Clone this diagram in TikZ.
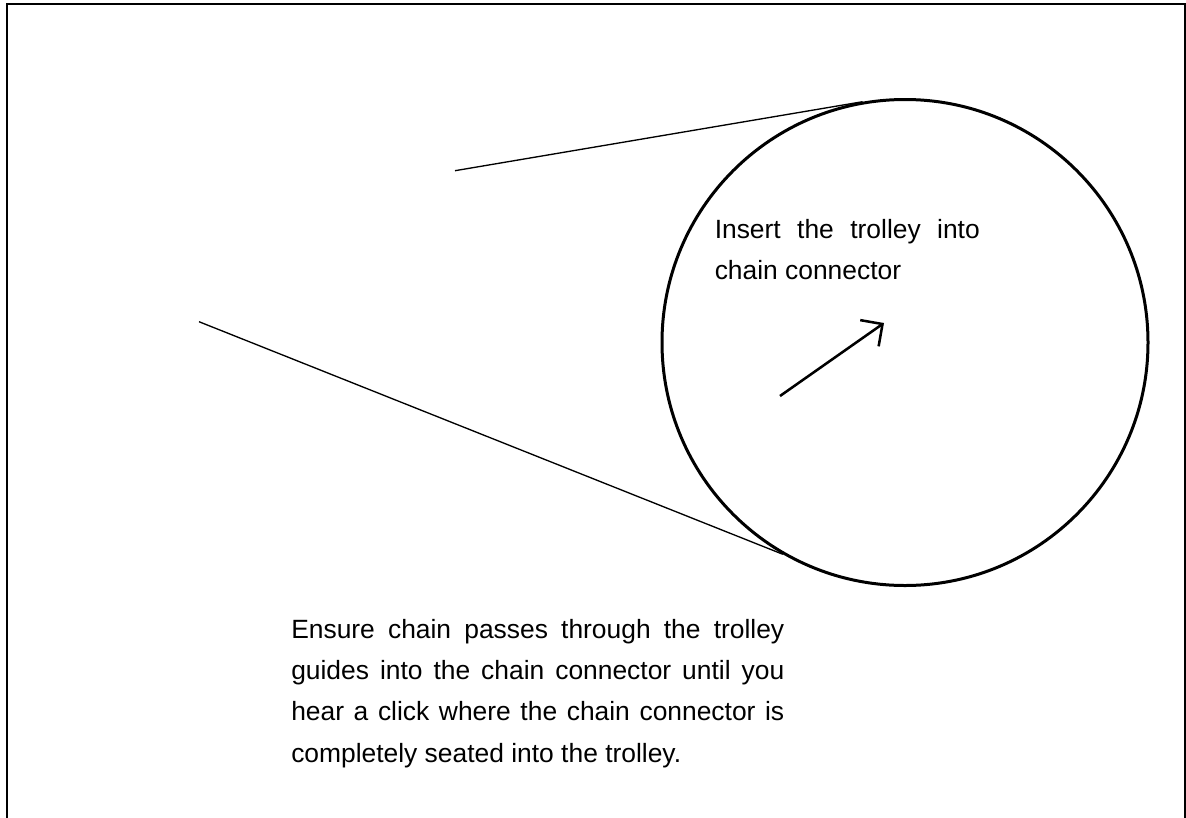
\documentclass[tikz,border=0pt]{standalone}
\usepackage{xcolor}
\usepackage{fontspec}
\setmainfont{Liberation Sans}
\usepackage{tikz}
\usetikzlibrary{arrows.meta, positioning, calc}
\definecolor{inkblack}{HTML}{000000}
\tikzset{
  arr/.style={-{Straight Barb[length=12pt, width=24pt, line width=1.9pt]}, line width=1.9pt, inkblack},
  leader/.style={line width=1pt, inkblack},
  lens/.style={circle, draw=inkblack, line width=2.25pt, inner sep=0pt, minimum size=364.5pt},
  note/.style={inner sep=0pt, anchor=base west, align=justify, text=inkblack, font=\fontsize{19.8}{30.9}\selectfont},
}

\begin{document}
\begin{tikzpicture}[x=0.75pt, y=-0.75pt]
  \useasboundingbox (0,0) rectangle (1186,818);

  % Page frame, open at the bottom
  \draw[line width=1.5pt, inkblack] (7,830) -- (7,4) -- (1185,4) -- (1185,830);

  % Zoom circle and its leader lines
  \node[lens] (zoom) at (905,342.5) {};
  \coordinate (topstart) at (455,170.7);
  \coordinate (botstart) at (199,321.7);
  \draw[leader] (topstart) -- (zoom.100);
  \draw[leader] (botstart) -- (zoom.240);

  % Insertion direction
  \coordinate (pushfrom) at (780,396);
  \coordinate (pushto) at (884,323);
  \draw[arr] (pushfrom) -- (pushto);

  % Texts
  \node[note, text width=198.75pt] (insert) at (714.5,238.5) {Insert the trolley into chain connector};
  \node[note, text width=369.75pt] (ensure) at (291,638.5) {Ensure chain passes through the trolley guides into the chain connector until you hear a click where the chain connector is completely seated into the trolley.};
\end{tikzpicture}
\end{document}
